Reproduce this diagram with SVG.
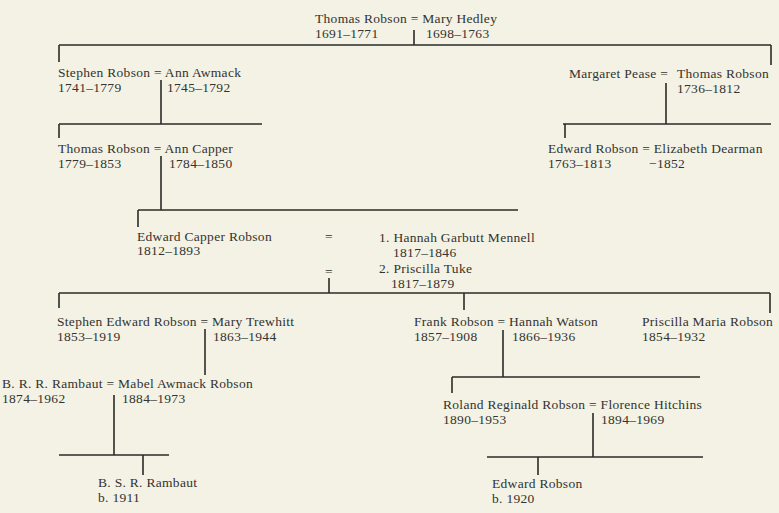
<svg xmlns="http://www.w3.org/2000/svg" width="779" height="513" viewBox="0 0 779 513">
<style>
text{font-family:"Liberation Serif","Times New Roman",serif;font-size:13.5px;letter-spacing:0.3px;fill:#333330}
.c{stroke:#2c2c2a;stroke-width:1.6;fill:none}
</style>
<rect width="779" height="513" fill="#f3f2e4"/>
<g id="connectors" class="c">
<path d="M414 30V45M59 45H771M59 45V62M771 45V65"/>
<path d="M161 80V124M59 124H262M59 124V138"/>
<path d="M666 83V124M563 124H771M565 124V138"/>
<path d="M161 156V210M138 210H518M138 210V227"/>
<path d="M329 278V293M59 293H770M59 293V308M464 293V310M770 293V313"/>
<path d="M205 329V375"/>
<path d="M114 395V455M59 455H169M143 455V475"/>
<path d="M503 330V377M452 377H700M452 377V393"/>
<path d="M593 413V457M487 457H703M538 457V475"/>
</g>
<g id="thomas-mary">
<text x="315" y="23">Thomas Robson = Mary Hedley</text>
<text x="315" y="38">1691–1771</text>
<text x="426" y="38">1698–1763</text>
</g>
<g id="stephen-ann">
<text x="58" y="77">Stephen Robson = Ann Awmack</text>
<text x="58" y="92">1741–1779</text>
<text x="167" y="92">1745–1792</text>
</g>
<g id="margaret-thomas">
<text x="569" y="78">Margaret Pease =</text>
<text x="677" y="78">Thomas Robson</text>
<text x="677" y="93">1736–1812</text>
</g>
<g id="thomas-ann">
<text x="58" y="153">Thomas Robson = Ann Capper</text>
<text x="58" y="168">1779–1853</text>
<text x="169" y="168">1784–1850</text>
</g>
<g id="edward-elizabeth">
<text x="548" y="153">Edward Robson = Elizabeth Dearman</text>
<text x="548" y="168">1763–1813</text>
<text x="649" y="168">−1852</text>
</g>
<g id="edward-capper">
<text x="137" y="241">Edward Capper Robson</text>
<text x="137" y="255">1812–1893</text>
<text x="325" y="241">=</text>
<text x="379" y="242">1. Hannah Garbutt Mennell</text>
<text x="393" y="257">1817–1846</text>
<text x="325" y="276">=</text>
<text x="379" y="273">2. Priscilla Tuke</text>
<text x="391" y="288">1817–1879</text>
</g>
<g id="stephen-edward-mary">
<text x="57" y="326">Stephen Edward Robson = Mary Trewhitt</text>
<text x="57" y="341">1853–1919</text>
<text x="213" y="341">1863–1944</text>
</g>
<g id="frank-hannah">
<text x="414" y="326">Frank Robson = Hannah Watson</text>
<text x="414" y="341">1857–1908</text>
<text x="512" y="341">1866–1936</text>
</g>
<g id="priscilla-maria">
<text x="642" y="326">Priscilla Maria Robson</text>
<text x="642" y="341">1854–1932</text>
</g>
<g id="rambaut-mabel">
<text x="2" y="388">B. R. R. Rambaut = Mabel Awmack Robson</text>
<text x="2" y="403">1874–1962</text>
<text x="122" y="403">1884–1973</text>
</g>
<g id="roland-florence">
<text x="443" y="409">Roland Reginald Robson = Florence Hitchins</text>
<text x="443" y="424">1890–1953</text>
<text x="601" y="424">1894–1969</text>
</g>
<g id="bsr-rambaut">
<text x="98" y="487">B. S. R. Rambaut</text>
<text x="98" y="502">b. 1911</text>
</g>
<g id="edward-robson-1920">
<text x="492" y="488">Edward Robson</text>
<text x="492" y="503">b. 1920</text>
</g>
</svg>
